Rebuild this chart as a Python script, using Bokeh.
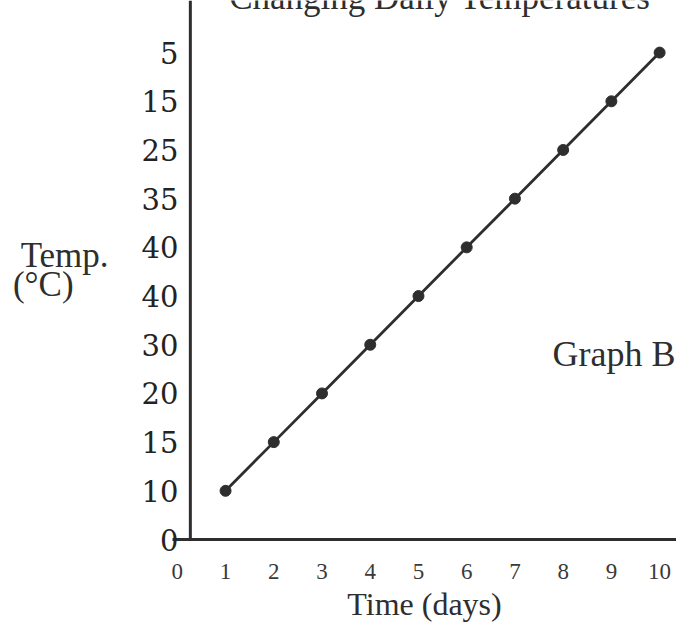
from bokeh.plotting import figure
from bokeh.models import Range1d, FixedTicker, Span, Label, ColumnDataSource
from bokeh.embed import file_html
from bokeh.resources import INLINE

# ---- data ----
days = [1, 2, 3, 4, 5, 6, 7, 8, 9, 10]
temps = [10, 15, 20, 30, 40, 40, 35, 25, 15, 5]      # printed temperature for each day
label_slot = [1, 2, 3, 4, 5, 6, 7, 8, 9, 10]          # evenly spaced slot where that label is printed
x_ticks = [0, 1, 2, 3, 4, 5, 6, 7, 8, 9, 10]
y_ticks = [0, 1, 2, 3, 4, 5, 6, 7, 8, 9, 10]
y_tick_labels = ["0"] + [str(t) for t in temps]

title_text = "Changing Daily Temperatures"
x_title = "Time (days)"
y_title = "Temp.\n(°C)" + "\u00a0" * 4
graph_name = "Graph B"

INK = "#2e2e2e"

src = ColumnDataSource(dict(day=days, slot=label_slot, temp=temps))

p = figure(width=676, height=628,
           x_range=Range1d(-0.1, 10.35), y_range=Range1d(0, 11.07),
           output_backend="svg", toolbar_location=None,
           min_border_left=172, min_border_right=0,
           min_border_top=0, min_border_bottom=89)

p.background_fill_color = "white"
p.border_fill_color = "white"
p.outline_line_color = None
p.grid.visible = False

# x axis
xa = p.xaxis[0]
xa.ticker = FixedTicker(ticks=x_ticks)
xa.axis_line_color = INK
xa.axis_line_width = 3
xa.major_tick_line_color = None
xa.minor_tick_line_color = None
xa.major_label_text_font = "Liberation Serif"
xa.major_label_text_font_size = "23px"
xa.major_label_text_color = "#3a3a3a"
xa.major_label_standoff = 18
xa.axis_label = x_title
xa.axis_label_text_font = "Liberation Serif"
xa.axis_label_text_font_size = "32px"
xa.axis_label_text_font_style = "normal"
xa.axis_label_text_color = INK
xa.axis_label_standoff = 4

# y axis (labels only; line drawn as a span)
ya = p.yaxis[0]
ya.ticker = FixedTicker(ticks=y_ticks)
ya.major_label_overrides = {t: lbl for t, lbl in zip(y_ticks, y_tick_labels)}
ya.axis_line_color = None
ya.major_tick_line_color = None
ya.minor_tick_line_color = None
ya.major_label_text_font = "DejaVu Serif"
ya.major_label_text_font_size = "29px"
ya.major_label_text_color = "#232323"
ya.major_label_standoff = -12
ya.axis_label = y_title
ya.axis_label_orientation = "horizontal"
ya.axis_label_text_font = "Liberation Serif"
ya.axis_label_text_font_size = "35px"
ya.axis_label_text_font_style = "normal"
ya.axis_label_text_line_height = 0.75
ya.axis_label_text_color = INK
ya.axis_label_standoff = 30

p.add_layout(Span(location=0.27, dimension="height", line_color=INK, line_width=3))

# data
p.line("day", "slot", source=src, line_color=INK, line_width=2.8)
p.scatter("day", "slot", source=src, size=11, fill_color=INK, line_color=INK)

# texts inside the frame
p.add_layout(Label(x=9.81, y=11.13, text=title_text, text_align="right",
                   text_baseline="alphabetic", text_font="Liberation Serif",
                   text_font_size="35px", text_color=INK))
p.add_layout(Label(x=7.78, y=3.82, text=graph_name, text_align="left",
                   text_baseline="alphabetic", text_font="Liberation Serif",
                   text_font_size="36px", text_color=INK))

open("out.html", "w").write(file_html(p, INLINE))
